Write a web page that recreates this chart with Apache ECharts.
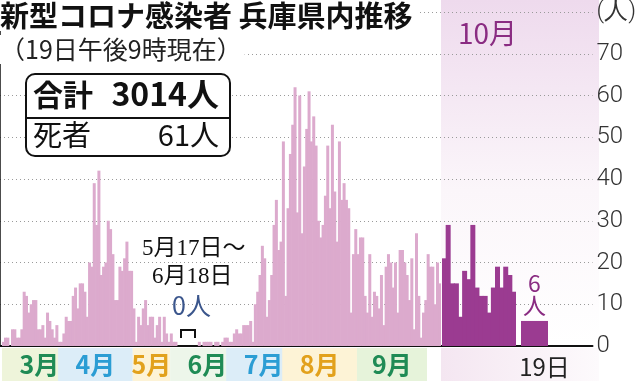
<!DOCTYPE html>
<html><head><meta charset="utf-8">
<script src="https://cdn.jsdelivr.net/npm/echarts@6/dist/echarts.min.js"></script>
<style>html,body{margin:0;padding:0;background:#fff}#c{width:639px;height:381px}</style>
</head><body><div id="c"></div>
<script>
// ---- data ----
// daily cases Mar 1 – May 16
const springValues = [1,2,2,0,4,4,2,2,4,13, 12,8,10,11,11,4,4,5,2,8, 6,4,2,5,1,1,3,7,6,6,
  12,14,9,15,15,13,7,20,19,39, 29,42,17,19,20,30,28,22,11,11, 19,18,21,25,18,18,9,1,7,5,
  9,11,5,7,7,2,5,7,1,7, 3,1,3,1,1,0,0];
// May 17 – Jun 18: 0 cases, drawn as a short compressed gap
const gapSlots = 7;
// daily cases Jun 19 – Sep 30
const summerValues = [1,0,1,1,1,1,0,1,1,0, 1,2,2,1,1,3,4,3,3,5, 5,5,6,1,10,13,17,24,21,7,
  11,17,29,35,23,25,49,12,33,46, 53,62,32,60,27,43,52,61,49,55, 48,30,26,29,36,48,33,53,37,25,
  49,35,39,35,33,8,22,28,22,26, 26,12,8,22,7,13,12,9,17,5, 19,22,20,14,20,8,23,23,20,17,
  11,21,4,27,12,2,8,11,22,19, 19,10,20,15];
// October 1 – 18
const octValues = [21,29,15,15,7,18,16,29,14,12,12,8,14,19,14,19,17,13];
// October 19 (as of 9 pm)
const oct19Value = 6;
const oct19Label = '19日';
const yTicks = [0,10,20,30,40,50,60,70];
const yUnit = '(人)';
const monthLabels = ['3月','4月','5月','6月','7月','8月','9月'];

// ---- categories ----
function dates(y, m0, d0, n){
  const out=[]; const dt=new Date(y,m0-1,d0);
  for(let i=0;i<n;i++){ out.push((dt.getMonth()+1)+'/'+dt.getDate()); dt.setDate(dt.getDate()+1); }
  return out;
}
const springCats = dates(2020,3,1,springValues.length);
const gapCats = Array.from({length:gapSlots},(_,i)=>'gap'+i);
const summerCats = dates(2020,6,19,summerValues.length);
const mainCats = springCats.concat(gapCats, summerCats);
const mainValues = springValues.concat(Array(gapSlots).fill(null), summerValues);
const octCats = dates(2020,10,1,octValues.length);

const chart = echarts.init(document.getElementById('c'), null, {renderer:'canvas'});
const FONT = 'Noto Sans CJK JP';
const PINK = '#dcaacd', PURPLE = '#9b3b91', PTEXT = '#8a2c82';

const bandStyle = [
  {bg:'#eef4da', fg:'#1f8b55'},
  {bg:'#dcedf8', fg:'#2b9dd4'},
  {bg:'#fdf3d6', fg:'#e2a11c'},
  {bg:'#edf6ea', fg:'#1f8b55'},
  {bg:'#dcedf8', fg:'#2b9dd4'},
  {bg:'#fdf3d6', fg:'#e2a11c'},
  {bg:'#e6f3da', fg:'#1f8b55'}
];
const bandStartIdx = [0,31,61,75,96,127,158];
const bandData = monthLabels.map((m,i)=>[
  {name:m, xAxis: bandStartIdx[i], itemStyle:{color:bandStyle[i].bg},
   label:{color:bandStyle[i].fg}},
  {xAxis: i<monthLabels.length-1 ? bandStartIdx[i+1] : mainCats.length-1}
]);

const yMax = 80;
const option = {
  animation:false,
  backgroundColor:'#fff',
  textStyle:{fontFamily:FONT},
  title:[
    {text:'新型コロナ感染者 兵庫県内推移', left:0, top:0, padding:[1,6,1,0], backgroundColor:'#fff',
     textStyle:{fontSize:29, fontWeight:'bold', color:'#111', fontFamily:FONT}},
    {text:'（19日午後9時現在）', left:0, top:35, padding:[2,3,2,0], backgroundColor:'#fff',
     textStyle:{fontSize:25, fontWeight:'normal', color:'#222', fontFamily:FONT}}
  ],
  grid:[
    {left:0, top:12, width:599, height:334},           // 0 axis frame
    {left:2, top:12, width:439, height:334},           // 1 Mar-Sep
    {left:442, top:12, width:74, height:334},          // 2 Oct 1-18
    {left:521, top:12, width:27, height:334},          // 3 Oct 19
    {left:2, top:348, width:439, height:33}            // 4 month band
  ],
  xAxis:[
    {gridIndex:0, type:'value', min:0, max:1, axisLine:{show:true, onZero:false, lineStyle:{color:'#111', width:2}},
     axisTick:{show:false}, axisLabel:{show:false}, splitLine:{show:false}},
    {gridIndex:1, type:'category', data:mainCats, show:false},
    {gridIndex:2, type:'category', data:octCats, show:false},
    {gridIndex:3, type:'category', data:[oct19Label], axisLine:{show:false}, axisTick:{show:false},
     axisLabel:{show:true, margin:9, fontSize:24, color:'#222', padding:[0,0,0,20], fontFamily:FONT}},
    {gridIndex:4, type:'category', data:mainCats, show:false}
  ],
  yAxis:[
    {gridIndex:0, type:'value', position:'right', min:0, max:yMax, interval:10,
     axisLine:{show:true, lineStyle:{color:'#111', width:1.5}},
     axisTick:{show:true, inside:true, length:5, lineStyle:{color:'#111'}},
     axisLabel:{margin:4, fontSize:24, color:'#333', fontFamily:'Roboto', fontWeight:300,
       formatter:v=> v===yMax ? yUnit : (yTicks.includes(v)? String(v):'')},
     splitLine:{show:true, lineStyle:{color:'#9a9a9a', width:1, type:[1,3]}}},
    {gridIndex:1, type:'value', min:0, max:yMax, show:false},
    {gridIndex:2, type:'value', min:0, max:yMax, show:false},
    {gridIndex:3, type:'value', min:0, max:yMax, show:false},
    {gridIndex:4, type:'value', min:0, max:1, show:false}
  ],
  series:[
    {type:'bar', xAxisIndex:1, yAxisIndex:1, data:mainValues, barWidth:3,
     itemStyle:{color:PINK}, z:3},
    {type:'bar', xAxisIndex:2, yAxisIndex:2, data:octValues, barWidth:5,
     itemStyle:{color:PURPLE}, z:3},
    {type:'bar', xAxisIndex:3, yAxisIndex:3, data:[oct19Value], barCategoryGap:'0%',
     itemStyle:{color:PURPLE}, z:3,
     label:{show:true, position:'top', distance:5, formatter:p=>p.value+'\n人', color:PTEXT,
       fontSize:23, lineHeight:22, fontFamily:FONT}},
    {type:'bar', xAxisIndex:4, yAxisIndex:4, data:[], silent:true,
     markArea:{silent:true, label:{show:true, position:'inside', fontSize:25, fontWeight:'bold', fontFamily:FONT},
       data:bandData}}
  ],
  graphic:[
    {type:'rect', z:-10, silent:true, shape:{x:441, y:0, width:158, height:346},
     style:{fill:new echarts.graphic.LinearGradient(0,0,0,1,[
       {offset:0, color:'#eedaed'},{offset:0.55, color:'#fbf6fa'},{offset:1, color:'#ffffff'}])}},
    {type:'rect', z:-10, silent:true, shape:{x:441, y:348, width:158, height:33},
     style:{fill:new echarts.graphic.LinearGradient(0,0,1,0,[
       {offset:0, color:'#f4e6f1'},{offset:1, color:'#fdfafc'}])}},
    {type:'text', z:50, x:458, y:19, style:{text:'10月', fontSize:28, fill:PTEXT, fontFamily:FONT}},
    // summary box
    {type:'rect', z:50, shape:{x:26, y:74, width:204, height:82, r:9},
     style:{fill:'#fff', stroke:'#111', lineWidth:2}},
    {type:'line', z:51, shape:{x1:26, y1:118, x2:230, y2:118}, style:{stroke:'#111', lineWidth:2}},
    {type:'text', z:52, x:33, y:80, style:{text:'合計', fontSize:30, fontWeight:'bold', fill:'#111', fontFamily:FONT}},
    {type:'text', z:52, x:219, y:78, style:{text:'3014人', fontSize:32, fontWeight:'bold', fill:'#111', align:'right', fontFamily:FONT}},
    {type:'text', z:52, x:33, y:120, style:{text:'死者', fontSize:29, fill:'#111', fontFamily:FONT}},
    {type:'text', z:52, x:219, y:120, style:{text:'61人', fontSize:29, fill:'#111', align:'right', fontFamily:FONT}},
    // zero-case period annotation
    {type:'text', z:52, x:142, y:237, style:{text:'5月17日～', fontSize:23, fill:'#111', fontFamily:'Liberation Serif, '+FONT}},
    {type:'text', z:52, x:152, y:265, style:{text:'6月18日', fontSize:23, fill:'#111', fontFamily:'Liberation Serif, '+FONT}},
    {type:'text', z:52, x:172, y:293, style:{text:'0人', fontSize:25, fill:'#3b568c', fontFamily:FONT}},
    {type:'polyline', z:52, shape:{points:[[181,338],[181,330],[195,330],[195,338]]},
     style:{stroke:'#111', lineWidth:2, fill:null}}
  ]
};
chart.setOption(option);
</script></body></html>
